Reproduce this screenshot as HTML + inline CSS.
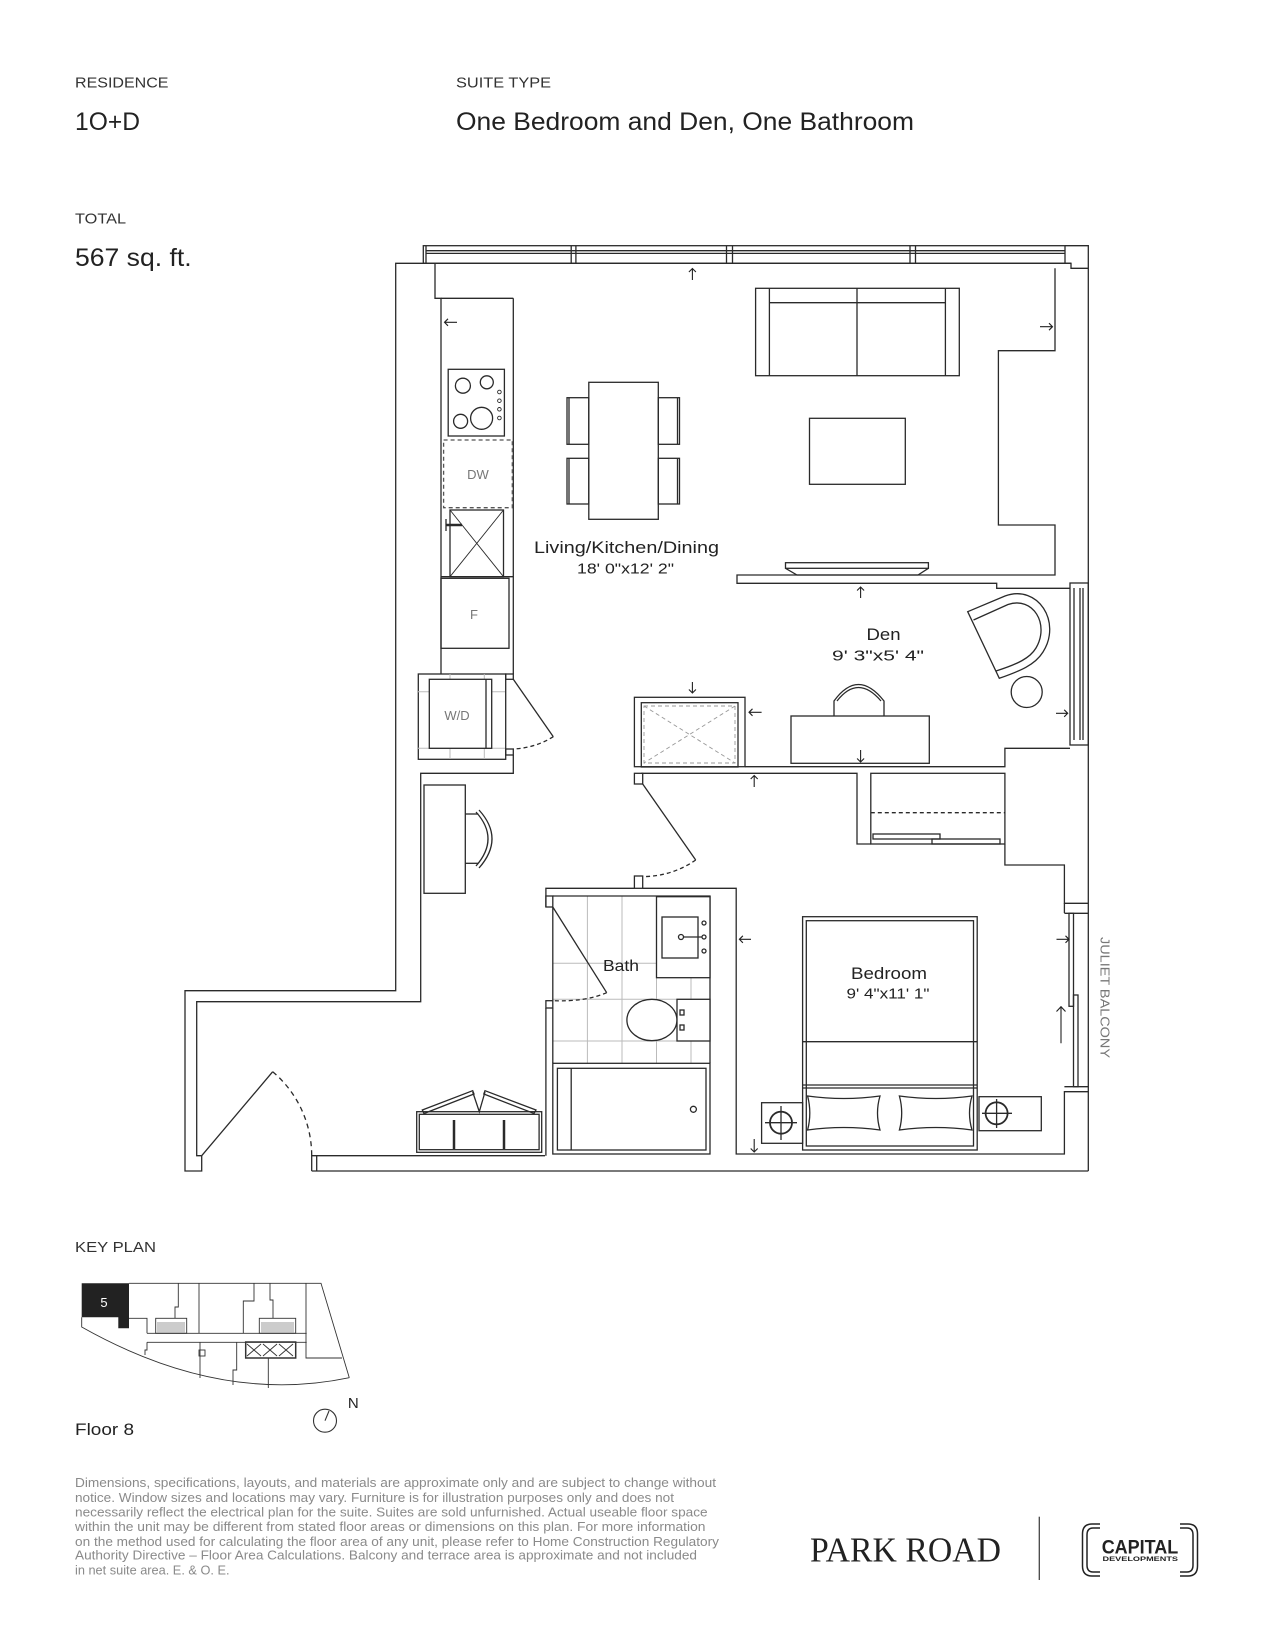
<!DOCTYPE html>
<html><head><meta charset="utf-8"><style>
html,body{margin:0;padding:0;background:#fff;}
svg{display:block;}
text{font-family:"Liberation Sans",sans-serif;}
</style></head><body>
<svg width="1275" height="1650" viewBox="0 0 1275 1650" xmlns="http://www.w3.org/2000/svg">
<rect width="1275" height="1650" fill="#fff"/>
<!-- header -->
<g fill="#222">
<text x="75" y="87.5" font-size="14.5" textLength="93.5" lengthAdjust="spacingAndGlyphs" fill="#333">RESIDENCE</text>
<text x="456" y="87.5" font-size="14.5" textLength="95" lengthAdjust="spacingAndGlyphs" fill="#333">SUITE TYPE</text>
<text x="75" y="130" font-size="25" textLength="65" lengthAdjust="spacingAndGlyphs">1O+D</text>
<text x="456" y="130" font-size="25" textLength="458" lengthAdjust="spacingAndGlyphs">One Bedroom and Den, One Bathroom</text>
<text x="75" y="223.5" font-size="14.5" textLength="51" lengthAdjust="spacingAndGlyphs" fill="#333">TOTAL</text>
<text x="75" y="266" font-size="25" textLength="116.6" lengthAdjust="spacingAndGlyphs">567 sq. ft.</text>
</g>

<g fill="none" stroke="#2a2a2a" stroke-width="1.3">
<!-- top rail -->
<rect x="423.3" y="245.7" width="641.7" height="17.6"/>
<line x1="426" y1="250.7" x2="1065" y2="250.7"/>
<line x1="426" y1="253.4" x2="1065" y2="253.4"/>
<line x1="426" y1="245.7" x2="426" y2="263.3"/>
<line x1="571.2" y1="245.7" x2="571.2" y2="263.3"/><line x1="575.9" y1="245.7" x2="575.9" y2="263.3"/>
<line x1="726.5" y1="245.7" x2="726.5" y2="263.3"/><line x1="732.5" y1="245.7" x2="732.5" y2="263.3"/>
<line x1="910" y1="245.7" x2="910" y2="263.3"/><line x1="915.5" y1="245.7" x2="915.5" y2="263.3"/>
<polyline points="1065,245.7 1088.3,245.7 1088.3,1171"/>
<polyline points="1065,263.3 1071,263.3 1071,268.3 1088.3,268.3"/>
<!-- top wall and left -->
<polyline points="1071,263.3 395.7,263.3 395.7,990.7 185,990.7 185,1171 201.7,1171 201.7,1155.7"/>
<polyline points="435,263.3 435,298.3 441,298.3 441,674"/>
<polyline points="513.3,298.3 513.3,674"/>
<line x1="441" y1="298.3" x2="513.3" y2="298.3"/>
<polyline points="513.3,755 513.3,773.3 420.7,773.3 420.7,1001.7 196.7,1001.7 196.7,1155.7 201.7,1155.7"/>
<!-- entry door -->
<line x1="201.7" y1="1155.7" x2="272.7" y2="1071.7"/>
<path d="M272.7,1071.7 A110,110 0 0 1 311.7,1155.7" stroke-dasharray="5,4"/>
<polyline points="311.7,1171 311.7,1155.7 316.7,1155.7 316.7,1171"/>
<line x1="311.7" y1="1171" x2="1088.3" y2="1171"/>
<line x1="316.7" y1="1155.7" x2="545" y2="1155.7"/>
<!-- kitchen -->
<rect x="448.2" y="369.3" width="56.2" height="66.7"/>
<circle cx="462.9" cy="385.7" r="7.5"/><circle cx="486.8" cy="382.3" r="6.5"/>
<circle cx="460.6" cy="421.3" r="7"/><circle cx="481.6" cy="418.3" r="11"/>
<g stroke-width="0.9"><circle cx="499.4" cy="392" r="1.8"/><circle cx="499.4" cy="400.7" r="1.8"/><circle cx="499.4" cy="409.3" r="1.8"/><circle cx="499.4" cy="418" r="1.8"/></g>
<rect x="443.6" y="440" width="68.7" height="67.7" stroke-dasharray="4,3" stroke="#555"/>
<rect x="450" y="510" width="53.5" height="66.7"/>
<line x1="450" y1="510" x2="503.5" y2="576.7" stroke-width="0.9"/>
<line x1="503.5" y1="510" x2="450" y2="576.7" stroke-width="0.9"/>
<line x1="446" y1="519" x2="446" y2="531"/><line x1="446" y1="525" x2="462" y2="525" stroke-width="2.5"/>
<rect x="441" y="578.3" width="68" height="70"/>
<line x1="441" y1="576.7" x2="513.3" y2="576.7"/>
<!-- W/D -->
<rect x="418.3" y="674" width="87.4" height="85.3"/>
<g stroke="#bbb" stroke-width="1"><line x1="450" y1="674" x2="450" y2="759"/><line x1="484.3" y1="674" x2="484.3" y2="759"/><line x1="418" y1="691.7" x2="505" y2="691.7"/><line x1="418" y1="748.3" x2="505" y2="748.3"/></g>
<rect x="429.3" y="679.3" width="62.4" height="69" fill="#fff"/>
<line x1="486" y1="679.3" x2="486" y2="748.3"/>
<rect x="505.7" y="674" width="7.6" height="5.3"/><rect x="505.7" y="749" width="7.6" height="6"/>
<line x1="513.3" y1="679.3" x2="553.3" y2="736.7"/>
<path d="M553.3,736.7 Q535,748 513.3,749" stroke-dasharray="4,3"/>
<!-- desk left -->
<rect x="424" y="785" width="41.3" height="108.3"/>
<polyline points="465.3,814 478.3,814"/><polyline points="465.3,863.3 478.3,863.3"/>
<path d="M476,812 Q500,838.6 476,866"/><path d="M479,810 Q505,838.6 479,868"/>
<!-- dining -->
<rect x="588.8" y="382.3" width="69.5" height="137"/>
<rect x="567" y="397.7" width="21.8" height="46.6"/><line x1="569" y1="397.7" x2="569" y2="444.3"/>
<rect x="567" y="458.3" width="21.8" height="45.7"/><line x1="569" y1="458.3" x2="569" y2="504"/>
<rect x="658.3" y="397.7" width="21.2" height="46.6"/><line x1="677.5" y1="397.7" x2="677.5" y2="444.3"/>
<rect x="658.3" y="458.3" width="21.2" height="45.7"/><line x1="677.5" y1="458.3" x2="677.5" y2="504"/>
<!-- sofa & table -->
<rect x="755.6" y="288.3" width="203.7" height="87.4"/>
<line x1="769.4" y1="288.3" x2="769.4" y2="375.7"/><line x1="945.4" y1="288.3" x2="945.4" y2="375.7"/>
<line x1="769.4" y1="302.7" x2="945.4" y2="302.7"/><line x1="857" y1="288.3" x2="857" y2="375.7"/>
<rect x="809.5" y="418.3" width="95.8" height="66"/>
<!-- right wall upper -->
<polyline points="1055,268.3 1055,350.7 998.4,350.7 998.4,525 1055,525 1055,575 737,575 737,583.3 996.7,583.3 996.7,588.3 1070,588.3"/>
<rect x="785.5" y="562.7" width="142.9" height="5.6"/>
<polyline points="785.5,568.3 797,575 918,575 928.4,568.3"/>
<!-- den window -->
<rect x="1070" y="583" width="18.3" height="162"/>
<line x1="1074" y1="588" x2="1074" y2="740"/><line x1="1080" y1="588" x2="1080" y2="740"/><line x1="1083" y1="588" x2="1083" y2="740"/>
<!-- den chair -->
<path d="M967.7,611.7 L1005,596 C1038,584 1062,622 1043,652 C1035,665 1020,671 999.3,678.3 Z"/>
<path d="M973.5,620 L1008,604.5 C1033,596 1050,624 1036,648 C1030,658 1018,664 996,671"/>
<circle cx="1026.7" cy="692" r="15.5"/>
<!-- shower/closet -->
<rect x="634.4" y="697.3" width="110.6" height="69.4"/>
<rect x="641.3" y="702.7" width="96.7" height="64.3"/>
<g stroke="#999" stroke-width="0.9" stroke-dasharray="4,3"><rect x="644" y="706" width="91" height="57"/><line x1="644" y1="706" x2="735" y2="763"/><line x1="735" y1="706" x2="644" y2="763"/></g>
<!-- den desk -->
<rect x="791" y="716" width="138.3" height="47.3"/>
<path d="M834,716 L834,701 Q858,668 884,701 L884,716"/>
<path d="M837,701 Q858,674 881,701"/>
<!-- walls mid -->
<polyline points="745,766.7 1004.9,766.7 1004.9,748.3 1070,748.3"/>
<polyline points="641.3,773.3 857,773.3 857,844 870.8,844"/>
<rect x="870.8" y="773.3" width="134.1" height="70.7"/>
<line x1="870.8" y1="812.7" x2="1004.9" y2="812.7" stroke-dasharray="4,3"/>
<rect x="873" y="834" width="67" height="5"/><rect x="932" y="839" width="68" height="5"/>
<polyline points="1004.9,844 1004.9,865 1064.4,865 1064.4,903.3 1088.3,903.3"/>
<!-- bedroom door -->
<rect x="634.4" y="773.3" width="8.3" height="10.7"/>
<line x1="642.7" y1="784" x2="695.7" y2="860"/>
<path d="M695.7,860 A92.6,92.6 0 0 1 642.7,876.6" stroke-dasharray="4,3"/>
<rect x="634.4" y="876" width="8.3" height="12.3"/>
<!-- bath -->
<polyline points="642.7,888.3 736.2,888.3 736.2,1154 1064.4,1154 1064.4,1091.7 1088.3,1091.7"/>
<polyline points="545.9,907 545.9,888.3 634.4,888.3"/>
<g stroke="#bbb" stroke-width="1">
<line x1="587.4" y1="896" x2="587.4" y2="1063"/><line x1="622" y1="896" x2="622" y2="1063"/><line x1="656.5" y1="896" x2="656.5" y2="1063"/><line x1="691" y1="896" x2="691" y2="1063"/>
<line x1="552.8" y1="963.3" x2="710" y2="963.3"/><line x1="552.8" y1="999.3" x2="710" y2="999.3"/><line x1="552.8" y1="1041" x2="710" y2="1041"/>
</g>
<polyline points="552.8,896 710,896 710,1063"/>
<line x1="552.8" y1="907" x2="552.8" y2="1000.7"/>
<rect x="545.9" y="896" width="6.9" height="11"/>
<rect x="545.9" y="1000.7" width="6.9" height="7.3"/>
<line x1="545.9" y1="1008" x2="545.9" y2="1155.7"/><line x1="552.8" y1="1008" x2="552.8" y2="1063"/>
<line x1="552.8" y1="907" x2="606.7" y2="992.7"/>
<path d="M606.7,992.7 Q585,1002 552.8,1000.7" stroke-dasharray="4,3"/>
<rect x="656.5" y="896.7" width="53.5" height="81" fill="#fff"/>
<rect x="662" y="917" width="36" height="41"/>
<circle cx="681" cy="937" r="2.5"/><line x1="684" y1="937" x2="702" y2="937"/>
<circle cx="704" cy="923" r="2"/><circle cx="704" cy="937" r="2"/><circle cx="704" cy="951" r="2"/>
<rect x="677" y="999.3" width="33" height="41.7" fill="#fff"/>
<ellipse cx="651.9" cy="1020" rx="25" ry="20.7" fill="#fff"/>
<rect x="680" y="1010" width="4" height="5"/><rect x="680" y="1025" width="4" height="5"/>
<rect x="552.8" y="1063.3" width="157.2" height="90.7" fill="#fff"/>
<rect x="557.4" y="1068.3" width="148.6" height="81.7"/>
<line x1="571.2" y1="1068.3" x2="571.2" y2="1150"/>
<circle cx="693.4" cy="1109.3" r="3"/>
<!-- vanity cabinet -->
<rect x="416.7" y="1111.7" width="125" height="40.6"/>
<rect x="419.3" y="1114.3" width="119.8" height="35.4"/>
<polygon points="422.3,1110 472.7,1090.7 474,1094 424,1113.5"/>
<polygon points="536,1110 485,1090.7 483.8,1094 534,1113.5"/>
<polyline points="472.7,1092 479.3,1111.7 485,1092"/>
<line x1="454" y1="1120" x2="454" y2="1149" stroke-width="2.5"/><line x1="504" y1="1120" x2="504" y2="1149" stroke-width="2.5"/>
<!-- bed -->
<rect x="802.6" y="916.7" width="174.6" height="233.3"/>
<rect x="806.3" y="920.7" width="167.2" height="225.3"/>
<line x1="802.6" y1="1041.7" x2="977.2" y2="1041.7"/>
<line x1="802.6" y1="1085" x2="977.2" y2="1085"/><line x1="802.6" y1="1088" x2="977.2" y2="1088"/>
<path d="M807.6,1096 Q844,1101 880,1096 Q875,1113 880,1130 Q844,1125 807.6,1130 Q812,1113 807.6,1096 Z"/>
<path d="M899.4,1096 Q936,1101 972,1096 Q967,1113 972,1130 Q936,1125 899.4,1130 Q904,1113 899.4,1096 Z"/>
<rect x="761.6" y="1102.7" width="41" height="40.6"/>
<circle cx="781" cy="1122.7" r="11" stroke-width="1.8"/>
<line x1="765" y1="1122.7" x2="797" y2="1122.7"/><line x1="781" y1="1106" x2="781" y2="1140"/>
<rect x="979" y="1096.7" width="62.3" height="34"/>
<circle cx="996.6" cy="1113.3" r="11" stroke-width="1.8"/>
<line x1="982" y1="1113.3" x2="1012" y2="1113.3"/><line x1="996.6" y1="1099" x2="996.6" y2="1128"/>
<!-- bedroom window -->
<line x1="1064.4" y1="903.3" x2="1064.4" y2="913"/>
<rect x="1069" y="913.3" width="4.5" height="93"/>
<rect x="1073.5" y="995" width="4.5" height="91.7"/>
<line x1="1064.4" y1="913.3" x2="1088.3" y2="913.3"/>
<line x1="1064.4" y1="1086.7" x2="1088.3" y2="1086.7"/>
</g>

<!-- arrows -->
<g fill="none" stroke="#222" stroke-width="1.1">
<path d="M692.4,280 V268.5 M688.9,272 L692.4,268.5 L695.9,272"/>
<path d="M457,322.3 H444.5 M448,318.8 L444.5,322.3 L448,325.8"/>
<path d="M1040,326.7 H1052.5 M1049,323.2 L1052.5,326.7 L1049,330.2"/>
<path d="M860.6,598 V587 M857.1,590.5 L860.6,587 L864.1,590.5"/>
<path d="M692.4,682 V693 M688.9,689.5 L692.4,693 L695.9,689.5"/>
<path d="M761.6,712.3 H749 M752.5,708.8 L749,712.3 L752.5,715.8"/>
<path d="M860.6,750 V762 M857.1,758.5 L860.6,762 L864.1,758.5"/>
<path d="M1056,713.3 H1067.7 M1064.2,709.8 L1067.7,713.3 L1064.2,716.8"/>
<path d="M754.2,787 V775.5 M750.7,779 L754.2,775.5 L757.7,779"/>
<path d="M751,939.3 H739.4 M742.9,935.8 L739.4,939.3 L742.9,942.8"/>
<path d="M1056.5,939.3 H1069 M1065.5,935.8 L1069,939.3 L1065.5,942.8"/>
<path d="M1061,1043.3 V1006.7 M1056.5,1011.5 L1061,1006.7 L1065.5,1011.5"/>
<path d="M754.2,1139 V1152 M750.7,1148.5 L754.2,1152 L757.7,1148.5"/>
</g>

<!-- plan labels -->
<g fill="#222">
<text x="626.5" y="553" font-size="17" text-anchor="middle" textLength="185" lengthAdjust="spacingAndGlyphs">Living/Kitchen/Dining</text>
<text x="625.5" y="573.5" font-size="14.5" text-anchor="middle" textLength="97" lengthAdjust="spacingAndGlyphs">18' 0"x12' 2"</text>
<text x="883.5" y="640" font-size="17" text-anchor="middle" textLength="34" lengthAdjust="spacingAndGlyphs">Den</text>
<text x="878" y="660.5" font-size="14.5" text-anchor="middle" textLength="92" lengthAdjust="spacingAndGlyphs">9' 3"x5' 4"</text>
<text x="621" y="971" font-size="16" text-anchor="middle" textLength="36" lengthAdjust="spacingAndGlyphs">Bath</text>
<text x="889" y="979" font-size="17" text-anchor="middle" textLength="76" lengthAdjust="spacingAndGlyphs">Bedroom</text>
<text x="888" y="998.5" font-size="14.5" text-anchor="middle" textLength="83" lengthAdjust="spacingAndGlyphs">9' 4"x11' 1"</text>
<text x="478" y="479" font-size="13" text-anchor="middle" fill="#777">DW</text>
<text x="474" y="619" font-size="13" text-anchor="middle" fill="#777">F</text>
<text x="457" y="720" font-size="13" text-anchor="middle" fill="#777">W/D</text>
<text transform="translate(1100.5,937) rotate(90)" x="0" y="0" font-size="12.5" fill="#777" textLength="121" lengthAdjust="spacingAndGlyphs">JULIET BALCONY</text>
</g>

<!-- key plan -->
<text x="75" y="1252" font-size="14.5" fill="#333" textLength="81" lengthAdjust="spacingAndGlyphs">KEY PLAN</text>
<polygon points="81.7,1283.3 129,1283.3 129,1328.3 118.3,1328.3 118.3,1317.3 81.7,1317.3" fill="#222"/>
<text x="104" y="1307" font-size="13" fill="#fff" text-anchor="middle">5</text>
<g fill="none" stroke="#333" stroke-width="0.9">
<polyline points="129,1283.3 321,1283.3 349.3,1377.7"/>
<path d="M81.7,1317.3 V1327 Q220,1405 349.3,1377.7"/>
<polyline points="129,1318.3 147,1318.3 147,1333.3"/>
<line x1="147" y1="1333.3" x2="306.7" y2="1333.3"/>
<polyline points="147,1342.3 306.7,1342.3"/>
<polyline points="178.3,1283.3 178.3,1307 175,1307 175,1318.3"/>
<line x1="199" y1="1283.3" x2="199" y2="1333.3"/>
<polyline points="254,1283.3 254,1301 243.3,1301 243.3,1333.3"/>
<polyline points="270,1283.3 270,1300 273,1300 273,1318.3"/>
<polyline points="306,1283.3 306,1358 342,1358"/>
<rect x="155.7" y="1318.3" width="31" height="15"/>
<rect x="259.3" y="1318.3" width="36.4" height="15"/>
<rect x="245.7" y="1342" width="50" height="16" stroke-width="1.5"/>
<path d="M247,1344 L261,1356 M261,1344 L247,1356 M263,1344 L277,1356 M277,1344 L263,1356 M279,1344 L293,1356 M293,1344 L279,1356"/>
<line x1="200" y1="1342.3" x2="200" y2="1378"/>
<rect x="199" y="1350" width="6" height="6"/>
<polyline points="236.7,1342.3 236.7,1370 233,1370 233,1385"/>
<line x1="268.3" y1="1358" x2="268.3" y2="1388"/>
<polyline points="147,1342.3 147,1350 145,1350 145,1355"/>
<rect x="157" y="1322" width="28" height="11" fill="#999" stroke="none" opacity="0.5"/>
<rect x="261" y="1322" width="33" height="11" fill="#999" stroke="none" opacity="0.5"/>
</g>
<text x="353.3" y="1408" font-size="15" fill="#222" text-anchor="middle">N</text>
<circle cx="325" cy="1420.7" r="11.5" fill="none" stroke="#333" stroke-width="1.1"/>
<line x1="325" y1="1420.7" x2="329" y2="1411" stroke="#333" stroke-width="1.1"/>
<text x="75" y="1435" font-size="16.5" fill="#222" textLength="59" lengthAdjust="spacingAndGlyphs">Floor 8</text>

<!-- disclaimer -->
<g font-size="12.5" fill="#8a8a8a">
<text x="75" y="1487" textLength="641" lengthAdjust="spacingAndGlyphs">Dimensions, specifications, layouts, and materials are approximate only and are subject to change without</text>
<text x="75" y="1501.8" textLength="599" lengthAdjust="spacingAndGlyphs">notice. Window sizes and locations may vary. Furniture is for illustration purposes only and does not</text>
<text x="75" y="1516.4" textLength="632.6" lengthAdjust="spacingAndGlyphs">necessarily reflect the electrical plan for the suite. Suites are sold unfurnished. Actual useable floor space</text>
<text x="75" y="1531.2" textLength="630.5" lengthAdjust="spacingAndGlyphs">within the unit may be different from stated floor areas or dimensions on this plan. For more information</text>
<text x="75" y="1546" textLength="644" lengthAdjust="spacingAndGlyphs">on the method used for calculating the floor area of any unit, please refer to Home Construction Regulatory</text>
<text x="75" y="1559.7" textLength="622" lengthAdjust="spacingAndGlyphs">Authority Directive – Floor Area Calculations. Balcony and terrace area is approximate and not included</text>
<text x="75" y="1574.4" textLength="154.5" lengthAdjust="spacingAndGlyphs">in net suite area. E. &amp; O. E.</text>
</g>

<!-- footer logos -->
<text x="810" y="1561.7" style="font-family:'Liberation Serif',serif" font-size="35" fill="#222" textLength="191" lengthAdjust="spacingAndGlyphs">PARK ROAD</text>
<line x1="1039.3" y1="1516.7" x2="1039.3" y2="1580" stroke="#444" stroke-width="1.3"/>
<g fill="none" stroke="#222" stroke-width="1.5">
<path d="M1100,1524 H1092 Q1082.5,1524 1082.5,1534 V1566 Q1082.5,1576 1092,1576 H1100"/>
<path d="M1100,1528 H1093 Q1087,1528 1087,1535 V1565 Q1087,1572 1093,1572 H1100"/>
<path d="M1180,1524 H1188 Q1197.5,1524 1197.5,1534 V1566 Q1197.5,1576 1188,1576 H1180"/>
<path d="M1180,1528 H1187 Q1193,1528 1193,1535 V1565 Q1193,1572 1187,1572 H1180"/>
</g>
<text x="1101.7" y="1553.3" font-size="19" font-weight="bold" fill="#222" textLength="76.6" lengthAdjust="spacingAndGlyphs">CAPITAL</text>
<text x="1102.5" y="1561" font-size="6.5" font-weight="bold" fill="#222" textLength="75.5" lengthAdjust="spacingAndGlyphs">DEVELOPMENTS</text>
</svg>
</body></html>
